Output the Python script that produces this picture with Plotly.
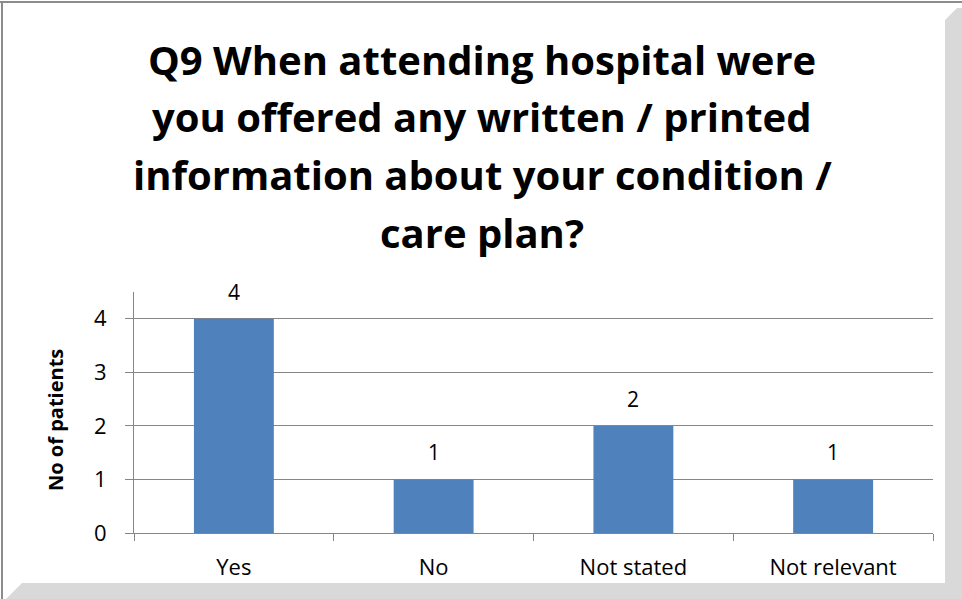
import plotly.graph_objects as go

# data
categories = ["Yes", "No", "Not stated", "Not relevant"]
patients = [4, 1, 2, 1]
title_lines = [
    "Q9 When attending hospital were",
    "you offered any written / printed",
    "information about your condition /",
    "care plan?",
]
y_ticks = [0, 1, 2, 3, 4]

W, H = 962, 599
BAR = "#4F81BD"
GRID = "#868686"
FONT = "Open Sans"


def px(x):
    return x / W


def py(y):
    return 1 - y / H


fig = go.Figure(
    go.Bar(
        x=categories,
        y=patients,
        marker_color=BAR,
        marker_line_width=0,
        hoverinfo="x+y",
    )
)

# data labels above the bars
for cat, val in zip(categories, patients):
    fig.add_annotation(
        x=cat, y=val, text=str(val), showarrow=False,
        yanchor="bottom", yshift=11,
        font=dict(family=FONT, size=21, color="#000000"),
    )

# title, one annotation per line so the spacing matches
for i, line in enumerate(title_lines):
    fig.add_annotation(
        xref="paper", yref="paper", x=px(482), y=py(59 + i * 57.7),
        text="<b>" + line + "</b>", showarrow=False,
        xanchor="center", yanchor="middle",
        font=dict(family=FONT, size=40, color="#000000"),
    )

# y axis title
fig.add_annotation(
    xref="paper", yref="paper", x=px(55), y=py(420),
    text="<b>No of patients</b>", showarrow=False, textangle=-90,
    xanchor="center", yanchor="middle",
    font=dict(family=FONT, size=20, color="#000000"),
)

# chart frame and drop shadow
shapes = [
    dict(type="path", xref="paper", yref="paper",
         path=f"M {px(945)},{py(20)} L {px(957)},{py(8)} L {px(962)},{py(8)} "
              f"L {px(962)},{py(599)} L {px(945)},{py(599)} Z",
         fillcolor="#D9D9D9", line_width=0, layer="below"),
    dict(type="path", xref="paper", yref="paper",
         path=f"M {px(22)},{py(583)} L {px(962)},{py(583)} L {px(962)},{py(599)} "
              f"L {px(6)},{py(599)} Z",
         fillcolor="#D9D9D9", line_width=0, layer="below"),
    dict(type="line", xref="paper", yref="paper",
         x0=0, x1=1, y0=py(2), y1=py(2), line=dict(color="#8C8C8C", width=2)),
    dict(type="line", xref="paper", yref="paper",
         x0=px(2), x1=px(2), y0=py(2), y1=0, line=dict(color="#8C8C8C", width=2)),
]

fig.update_layout(
    width=W, height=H,
    margin=dict(l=0, r=0, t=0, b=0),
    paper_bgcolor="white", plot_bgcolor="white",
    showlegend=False,
    bargap=0.6,
    shapes=shapes,
    font=dict(family=FONT, size=22, color="#000000"),
    xaxis=dict(
        domain=[px(134), px(933)],
        automargin=False,
        showline=True, linecolor=GRID, linewidth=1,
        ticks="outside", tickson="boundaries", ticklen=7, tickcolor=GRID,
        ticklabelstandoff=15,
        showgrid=False,
        tickfont=dict(family=FONT, size=22),
    ),
    yaxis=dict(
        domain=[py(533), py(292)],
        automargin=False,
        range=[0, 4.5],
        tickvals=y_ticks,
        showline=True, linecolor=GRID, linewidth=1,
        ticks="outside", ticklen=8, tickcolor=GRID,
        ticklabelstandoff=14,
        showgrid=True, gridcolor=GRID, gridwidth=1,
        zeroline=False,
        tickfont=dict(family=FONT, size=22),
    ),
)

# drop the browser's default page margin so the figure sits at 0,0
fig.write_html(
    "out.html",
    config={"displayModeBar": False},
    post_script="document.body.style.margin='0';",
)
